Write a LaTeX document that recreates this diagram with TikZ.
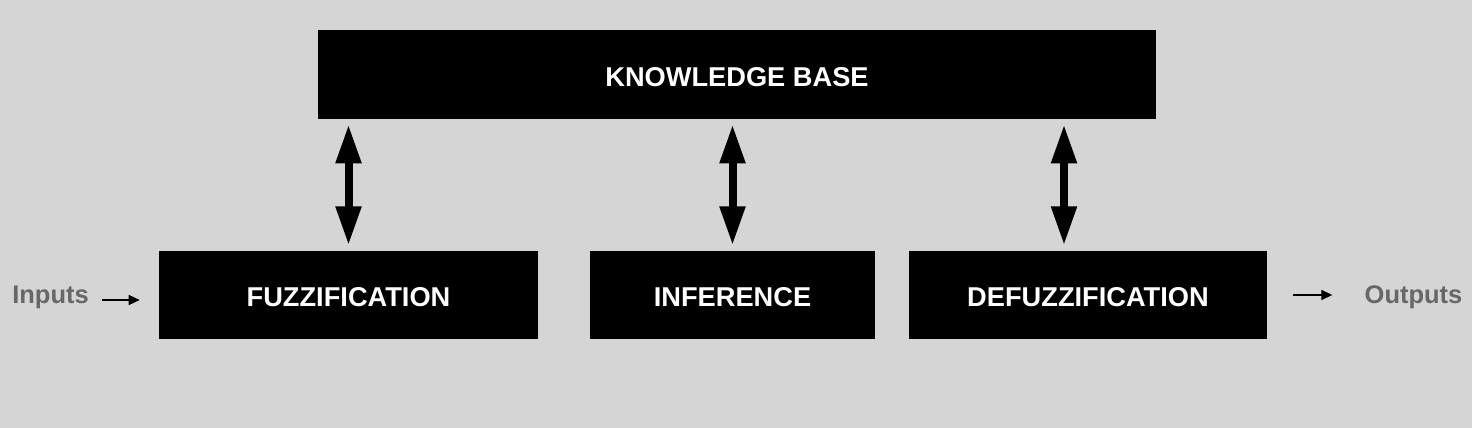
\documentclass[tikz,border=0pt]{standalone}
\usepackage{fontspec}
\setmainfont{Liberation Sans}
\usetikzlibrary{arrows.meta}
\definecolor{canvas}{HTML}{D5D5D5}
\definecolor{greytext}{HTML}{676767}

\begin{document}
\begin{tikzpicture}[x=0.02cm, y=-0.02cm,
      box/.style = {shape=rectangle, fill=black, text=white,
        inner sep=0pt, minimum height=1.77cm, text height=0.47cm, text depth=0pt,
        font=\bfseries\fontsize{15.5}{18}\selectfont},
      io/.style = {text=greytext, inner sep=0pt,
        font=\bfseries\fontsize{14.5}{17}\selectfont},
      both/.style = {line width=0.16cm,
        {Triangle[width=0.48cm,length=0.78cm]}-{Triangle[width=0.48cm,length=0.78cm]},
        shorten <=0.1cm, shorten >=0.1cm},
      feed/.style = {line width=0.03cm, -{Triangle[width=0.2cm,length=0.22cm]}}]
  \fill[canvas] (0,0) rectangle (1472,428);
  \node[box, minimum width=16.76cm, minimum height=1.78cm] (kb) at (737,74.5) {KNOWLEDGE BASE};
  \node[box, minimum width=7.58cm] (fuzz) at (348.5,295) {FUZZIFICATION};
  \node[box, minimum width=5.7cm] (infer) at (732.5,295) {INFERENCE};
  \node[box, minimum width=7.16cm] (defuzz) at (1088,295) {DEFUZZIFICATION};
  \node[io] (inputs) at (50.5,297) {Inputs};
  \node[io] (outputs) at (1413.5,297) {Outputs};
  % links to the knowledge base
  \draw[both] (kb.south -| fuzz.north) -- (fuzz.north);
  \draw[both] (kb.south -| infer.north) -- (infer.north);
  \draw[both] ([xshift=-0.48cm]defuzz.north |- kb.south) -- ([xshift=-0.48cm]defuzz.north);
  % in and out
  \draw[feed, shorten <=0.26cm, shorten >=0.38cm] ([yshift=-0.06cm]inputs.east) -- ([yshift=-0.06cm]inputs.east -| fuzz.west);
  \draw[feed, shorten <=0.52cm, shorten >=0.64cm] ([yshift=0.04cm]defuzz.east |- outputs.west) -- ([yshift=0.04cm]outputs.west);
\end{tikzpicture}
\end{document}
